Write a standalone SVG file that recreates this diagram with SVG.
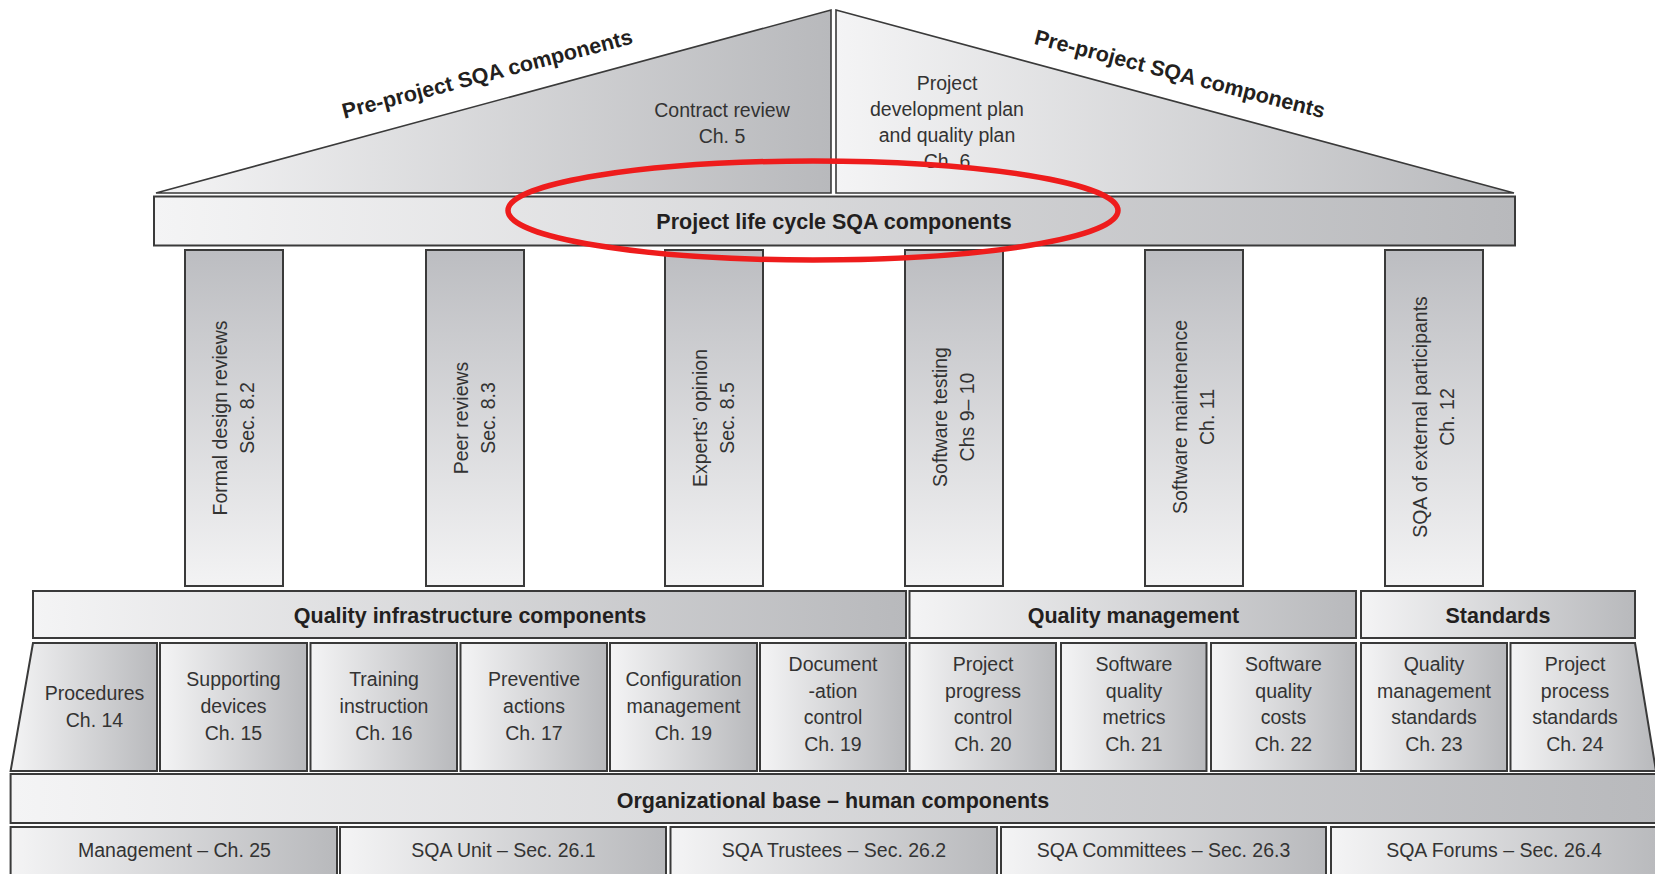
<svg xmlns="http://www.w3.org/2000/svg" width="1655" height="874" viewBox="0 0 1655 874">
<defs>
<linearGradient id="gH" x1="0" y1="0" x2="1" y2="0">
<stop offset="0" stop-color="#f4f4f5"/>
<stop offset="1" stop-color="#b8b9bc"/>
</linearGradient>
<linearGradient id="gV" x1="0" y1="0" x2="0" y2="1">
<stop offset="0" stop-color="#bcbdc1"/>
<stop offset="1" stop-color="#f3f3f4"/>
</linearGradient>
<style>
.box{fill:url(#gH);stroke:#3a3a3a;stroke-width:2}
.pil{fill:url(#gV);stroke:#3a3a3a;stroke-width:2}
.roof{fill:url(#gH);stroke:#3a3a3a;stroke-width:1.6}
.b{font-family:"Liberation Sans",Arial,sans-serif;font-weight:bold;font-size:21.5px;fill:#231f20;text-anchor:middle}
.r{font-family:"Liberation Sans",Arial,sans-serif;font-size:19.5px;fill:#333;text-anchor:middle}
</style>
</defs>
<rect width="1655" height="874" fill="#fff"/>

<g id="roof-left">
<polygon class="roof" points="156,193 831,10 831,193"/>
<text class="b" transform="translate(489,81) rotate(-14.6)">Pre-project SQA components</text>
<text class="r" x="722" y="116.5">Contract review</text>
<text class="r" x="722" y="143">Ch. 5</text>
</g>
<g id="roof-right">
<polygon class="roof" points="836,10 1514,193 836,193"/>
<text class="b" transform="translate(1178,81) rotate(14.4)">Pre-project SQA components</text>
<text class="r" x="947" y="90">Project</text>
<text class="r" x="947" y="116">development plan</text>
<text class="r" x="947" y="142">and quality plan</text>
<text class="r" x="947" y="168">Ch. 6</text>
</g>
<g id="beam">
<rect class="box" x="154" y="196.5" width="1361" height="49"/>
<text class="b" x="834" y="229">Project life cycle SQA components</text>
</g>

<g id="pillar-1">
<rect class="pil" x="185" y="250" width="98" height="336"/>
<g transform="translate(234,418) rotate(-90)"><text class="r" y="-7.3">Formal design reviews</text><text class="r" y="19.6">Sec. 8.2</text></g>
</g>
<g id="pillar-2">
<rect class="pil" x="426" y="250" width="98" height="336"/>
<g transform="translate(475,418) rotate(-90)"><text class="r" y="-7.3">Peer reviews</text><text class="r" y="19.6">Sec. 8.3</text></g>
</g>
<g id="pillar-3">
<rect class="pil" x="665" y="250" width="98" height="336"/>
<g transform="translate(714,418) rotate(-90)"><text class="r" y="-7.3">Experts’ opinion</text><text class="r" y="19.6">Sec. 8.5</text></g>
</g>
<g id="pillar-4">
<rect class="pil" x="905" y="250" width="98" height="336"/>
<g transform="translate(954,417) rotate(-90)"><text class="r" y="-7.3">Software testing</text><text class="r" y="19.6">Chs 9– 10</text></g>
</g>
<g id="pillar-5">
<rect class="pil" x="1145" y="250" width="98" height="336"/>
<g transform="translate(1194,417) rotate(-90)"><text class="r" y="-7.3">Software maintenence</text><text class="r" y="19.6">Ch. 11</text></g>
</g>
<g id="pillar-6">
<rect class="pil" x="1385" y="250" width="98" height="336"/>
<g transform="translate(1434,417) rotate(-90)"><text class="r" y="-7.3">SQA of external participants</text><text class="r" y="19.6">Ch. 12</text></g>
</g>

<g id="hdr-infrastructure">
<rect class="box" x="33" y="591" width="873" height="47"/>
<text class="b" x="470" y="622.5">Quality infrastructure components</text>
</g>
<g id="hdr-management">
<rect class="box" x="909.5" y="591" width="446.5" height="47"/>
<text class="b" x="1133.5" y="622.5">Quality management</text>
</g>
<g id="hdr-standards">
<rect class="box" x="1361" y="591" width="274" height="47"/>
<text class="b" x="1498" y="622.5">Standards</text>
</g>

<g id="c-procedures">
<polygon class="box" points="33,643 157,643 157,771 10.6,771"/>
<text class="r" x="94.5" y="700">Procedures</text>
<text class="r" x="94.5" y="727">Ch. 14</text>
</g>
<g id="c-supporting">
<rect class="box" x="160" y="643" width="147" height="128"/>
<text class="r" x="233.5" y="686">Supporting</text>
<text class="r" x="233.5" y="713">devices</text>
<text class="r" x="233.5" y="740">Ch. 15</text>
</g>
<g id="c-training">
<rect class="box" x="310.5" y="643" width="146.5" height="128"/>
<text class="r" x="384" y="686">Training</text>
<text class="r" x="384" y="713">instruction</text>
<text class="r" x="384" y="740">Ch. 16</text>
</g>
<g id="c-preventive">
<rect class="box" x="460.5" y="643" width="146.5" height="128"/>
<text class="r" x="534" y="686">Preventive</text>
<text class="r" x="534" y="713">actions</text>
<text class="r" x="534" y="740">Ch. 17</text>
</g>
<g id="c-configuration">
<rect class="box" x="610" y="643" width="147" height="128"/>
<text class="r" x="683.5" y="686">Configuration</text>
<text class="r" x="683.5" y="713">management</text>
<text class="r" x="683.5" y="740">Ch. 19</text>
</g>
<g id="c-documentation">
<rect class="box" x="760" y="643" width="146" height="128"/>
<text class="r" x="833" y="671">Document</text>
<text class="r" x="833" y="697.5">-ation</text>
<text class="r" x="833" y="724">control</text>
<text class="r" x="833" y="750.5">Ch. 19</text>
</g>
<g id="c-progress">
<rect class="box" x="909.5" y="643" width="146.5" height="128"/>
<text class="r" x="983" y="671">Project</text>
<text class="r" x="983" y="697.5">progress</text>
<text class="r" x="983" y="724">control</text>
<text class="r" x="983" y="750.5">Ch. 20</text>
</g>
<g id="c-metrics">
<rect class="box" x="1061" y="643" width="145.5" height="128"/>
<text class="r" x="1134" y="671">Software</text>
<text class="r" x="1134" y="697.5">quality</text>
<text class="r" x="1134" y="724">metrics</text>
<text class="r" x="1134" y="750.5">Ch. 21</text>
</g>
<g id="c-costs">
<rect class="box" x="1211" y="643" width="145" height="128"/>
<text class="r" x="1283.5" y="671">Software</text>
<text class="r" x="1283.5" y="697.5">quality</text>
<text class="r" x="1283.5" y="724">costs</text>
<text class="r" x="1283.5" y="750.5">Ch. 22</text>
</g>
<g id="c-qm-standards">
<rect class="box" x="1361" y="643" width="146" height="128"/>
<text class="r" x="1434" y="671">Quality</text>
<text class="r" x="1434" y="697.5">management</text>
<text class="r" x="1434" y="724">standards</text>
<text class="r" x="1434" y="750.5">Ch. 23</text>
</g>
<g id="c-process-standards">
<polygon class="box" points="1510.5,643 1635,643 1656,771 1510.5,771"/>
<text class="r" x="1575" y="671">Project</text>
<text class="r" x="1575" y="697.5">process</text>
<text class="r" x="1575" y="724">standards</text>
<text class="r" x="1575" y="750.5">Ch. 24</text>
</g>

<g id="org-base">
<rect class="box" x="10.6" y="774" width="1652" height="49"/>
<text class="b" x="833" y="807.5">Organizational base – human components</text>
</g>
<g id="h-management">
<rect class="box" x="10.6" y="827" width="326.4" height="60"/>
<text class="r" x="174.5" y="856.5">Management – Ch. 25</text>
</g>
<g id="h-unit">
<rect class="box" x="340" y="827" width="326" height="60"/>
<text class="r" x="503.5" y="856.5">SQA Unit – Sec. 26.1</text>
</g>
<g id="h-trustees">
<rect class="box" x="670.5" y="827" width="326.5" height="60"/>
<text class="r" x="834" y="856.5">SQA Trustees – Sec. 26.2</text>
</g>
<g id="h-committees">
<rect class="box" x="1001" y="827" width="325" height="60"/>
<text class="r" x="1163.5" y="856.5">SQA Committees – Sec. 26.3</text>
</g>
<g id="h-forums">
<rect class="box" x="1331" y="827" width="332" height="60"/>
<text class="r" x="1494" y="856.5">SQA Forums – Sec. 26.4</text>
</g>

<g id="connectors"/>
<g id="highlight">
<ellipse cx="813" cy="210.5" rx="305" ry="49.5" fill="none" stroke="#ee1c1c" stroke-width="5.5"/>
</g>
</svg>
